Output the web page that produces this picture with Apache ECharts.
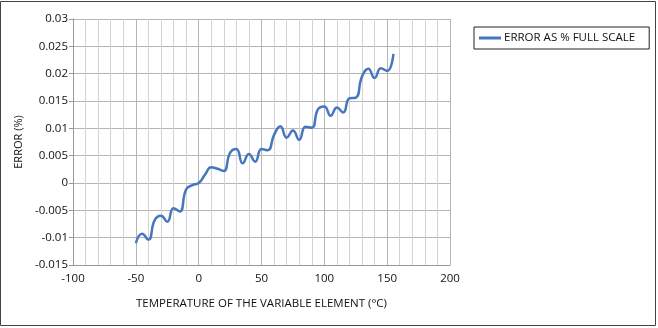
<!DOCTYPE html>
<html><head><meta charset="utf-8">
<script src="https://cdn.jsdelivr.net/npm/echarts@6/dist/echarts.min.js"></script>
<style>html,body{margin:0;padding:0;background:#fff}#c{width:658px;height:328px}</style>
</head><body><div id="c"></div>
<script>
const temps = [-50,-45,-40,-35,-30,-25,-20,-15,-10,-5,0,5,10,15,20,25,30,35,40,45,50,55,60,65,70,75,80,85,90,95,100,105,110,115,120,125,130,135,140,145,150,155];
const errorPct = [-0.011,-0.0093,-0.0104,-0.0068,-0.006,-0.0071,-0.0046,-0.0052,-0.0012,-0.0004,0,0.0015,0.0029,0.0026,0.0022,0.0055,0.0062,0.0036,0.0053,0.0039,0.0062,0.006,0.0088,0.0104,0.0083,0.0096,0.0079,0.0103,0.0101,0.0135,0.014,0.0123,0.0138,0.0129,0.0155,0.0156,0.0195,0.0209,0.0192,0.021,0.0205,0.0236];
const seriesName = 'ERROR AS % FULL SCALE';
const xTitle = 'TEMPERATURE OF THE VARIABLE ELEMENT (°C)';
const yTitle = 'ERROR (%)';

const font = '"Open Sans", Lato, sans-serif';
const chart = echarts.init(document.getElementById('c'), null, {renderer:'canvas'});
chart.setOption({
  animation:false,
  textStyle:{fontFamily:font},
  graphic:[{type:'rect',shape:{x:0.5,y:1.5,width:655,height:324},style:{fill:'none',stroke:'#444',lineWidth:1},silent:true}],
  grid:{left:73,top:19,right:208,bottom:63},
  legend:{
    data:[seriesName],left:474,top:27,
    borderColor:'#222',borderWidth:1,padding:[5,14,5,5],
    itemWidth:22,itemHeight:3,itemGap:4,
    icon:'rect',
    textStyle:{fontFamily:font,fontSize:11.5,color:'#111',padding:[0,0,0,-2]}
  },
  xAxis:{
    type:'value',min:-100,max:200,interval:50,
    name:xTitle,nameLocation:'middle',nameGap:33,
    nameTextStyle:{fontFamily:font,fontSize:11.5,color:'#111'},
    axisLine:{show:true,onZero:false,lineStyle:{color:'#999'}},
    axisTick:{show:false},
    axisLabel:{fontFamily:font,fontSize:11.5,color:'#111',margin:8},
    splitLine:{show:true,lineStyle:{color:'#b5b5b5'}},
    minorTick:{show:false,splitNumber:5},
    minorSplitLine:{show:true,lineStyle:{color:'#d3d3d3'}}
  },
  yAxis:{
    type:'value',min:-0.015,max:0.03,interval:0.005,
    name:yTitle,nameLocation:'middle',nameGap:45,nameRotate:90,
    nameTextStyle:{fontFamily:font,fontSize:11,color:'#111'},
    axisLine:{show:true,onZero:false,lineStyle:{color:'#999'}},
    axisTick:{show:true,length:4,lineStyle:{color:'#999'}},
    axisLabel:{fontFamily:font,fontSize:11.5,color:'#111',margin:5,formatter:v=>String(parseFloat(v.toFixed(3)))},
    splitLine:{show:true,lineStyle:{color:'#b5b5b5'}}
  },
  series:[{
    name:seriesName,type:'line',smooth:0.5,showSymbol:false,
    data:temps.map((t,i)=>[t,errorPct[i]]),
    lineStyle:{color:'#4677bd',width:2.5},itemStyle:{color:'#4677bd'}
  }]
});
</script></body></html>
